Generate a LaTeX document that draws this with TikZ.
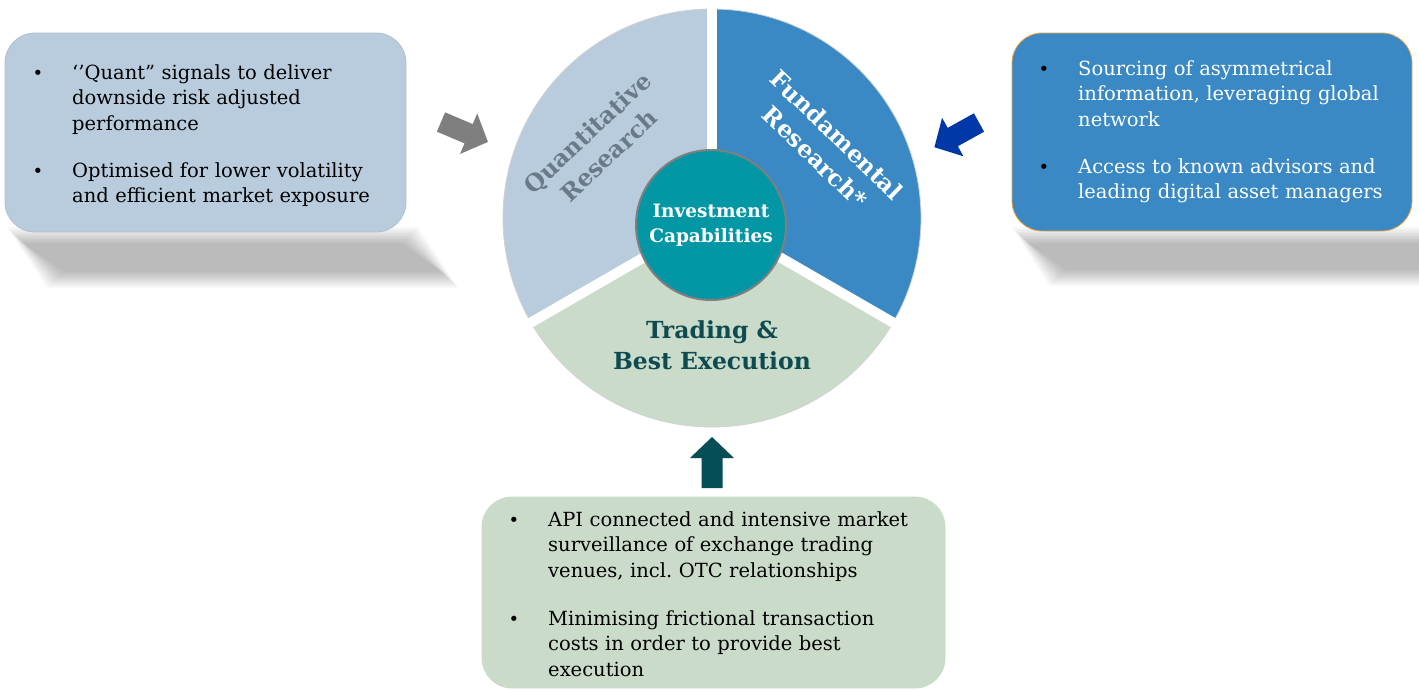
\documentclass[tikz,border=0pt]{standalone}
\usepackage{fontspec}
\setmainfont{DejaVu Serif}
\frenchspacing
\definecolor{quantbg}{HTML}{B9CCDD}
\definecolor{fundbg}{HTML}{3A89C5}
\definecolor{tradbg}{HTML}{CADBCA}
\definecolor{circbg}{HTML}{0397A6}
\definecolor{quanttxt}{HTML}{6B7A88}
\definecolor{tradtxt}{HTML}{0D4B50}
\definecolor{arrblue}{HTML}{0038A8}
\definecolor{arrteal}{HTML}{054E56}
\definecolor{arrgray}{HTML}{7F7F7F}
\definecolor{boxorange}{HTML}{F2A541}
\definecolor{boxline}{HTML}{AEBFCD}
\newcommand\blockarrow[1]{\fill[#1] (0,-10.5) -- (30,-10.5) -- (30,-22) -- (51,0) -- (30,22) -- (30,10.5) -- (0,10.5) -- cycle;}
\begin{document}
\begin{tikzpicture}[x=1pt,y=-1pt,
  every node/.style={inner sep=0pt},
  roundbox/.style={rounded corners=30pt, line width=0.8pt},
  bodytext/.style={font=\fontsize{19.5}{25.5}\selectfont, anchor=base west, text width=#1, align=left},
  bul/.style={font=\fontsize{18}{18}\selectfont, anchor=base},
  segtitle/.style={font=\bfseries\fontsize{23.5}{31}\selectfont, align=center}]
\clip (0,0) rectangle (1419,689);
\fill[white] (0,0) rectangle (1419,689);

% soft perspective shadows
\foreach \d in {-8,-6.5,-5,-3.5,-2,-0.5,1,2.5,4,5.5,7,8.5} {
  \fill[black, opacity=0.022] ({15+\d},{235+\d}) -- ({410-\d},{235+\d}) -- ({450-\d},{280-\d}) -- ({55+\d},{280-\d}) -- cycle;
  \fill[black, opacity=0.022] ({1020+\d},{235+\d}) -- ({1450-\d},{235+\d}) -- ({1470-\d},{278-\d}) -- ({1057+\d},{278-\d}) -- cycle;
}

% boxes
\draw[roundbox, fill=quantbg, draw=boxline] (5,33) rectangle (406,232);
\draw[roundbox, fill=fundbg, draw=boxorange] (1012,33) rectangle (1412,231);
\draw[roundbox, fill=tradbg, draw=tradbg] (482,497) rectangle (945,688);

% left box text
\node[bul] (qb1) at (38,79) {•};
\node[bodytext=330] (q1) at (72,79) {‘’Quant” signals to deliver\\downside risk adjusted\\performance};
\node[bul] (qb2) at (38,177) {•};
\node[bodytext=330] (q2) at (72,177) {Optimised for lower volatility\\and efficient market exposure};

% right box text
\node[bul] (fb1) at (1044,75) {•};
\node[bodytext=330, text=white] (f1) at (1078,75) {Sourcing of asymmetrical\\information, leveraging global\\network};
\node[bul] (fb2) at (1044,173) {•};
\node[bodytext=330, text=white] (f2) at (1078,173) {Access to known advisors and\\leading digital asset managers};

% bottom box text
\node[bul] (tb1) at (514,526) {•};
\node[bodytext=390] (t1) at (548,526) {API connected and intensive market\\surveillance of exchange trading\\venues, incl. OTC relationships};
\node[bul] (tb2) at (514,625) {•};
\node[bodytext=390] (t2) at (548,625) {Minimising frictional transaction\\costs in order to provide best\\execution};

% pie
\begin{scope}[shift={(712,218)}, y=1pt]
  \fill[quantbg] (0,0) -- (90:209) arc[start angle=90, end angle=210, radius=209] -- cycle;
  \fill[fundbg] (0,0) -- (-30:209) arc[start angle=-30, end angle=90, radius=209] -- cycle;
  \fill[tradbg] (0,0) -- (210:209) arc[start angle=210, end angle=330, radius=209] -- cycle;
  \draw[gray!35, line width=0.8pt] (0,0) circle[radius=209];
  \foreach \a in {90,210,330} \draw[white, line width=10pt] (0,0) -- (\a:216);
\end{scope}

\node[segtitle, text=quanttxt, rotate=43] (qt) at (598,144) {Quantitative\\Research};
\node[segtitle, text=white, rotate=-44] (ft) at (826,146) {Fundamental\\Research*};
\node[segtitle, text=tradtxt] (tt) at (712,345) {Trading \&\\Best Execution};

\node[circle, minimum size=150pt, fill=circbg, draw=arrgray, line width=2pt,
      font=\bfseries\fontsize{18.5}{25}\selectfont, text=white, align=center] (ic) at (711,225) {Investment\\Capabilities};

% arrows
\begin{scope}[shift={(441,122)}, rotate=-23] \blockarrow{arrgray} \end{scope}
\begin{scope}[shift={(979,122.5)}, rotate=209] \blockarrow{arrblue} \end{scope}
\begin{scope}[shift={(712,488)}, rotate=90] \blockarrow{arrteal} \end{scope}
\end{tikzpicture}
\end{document}
